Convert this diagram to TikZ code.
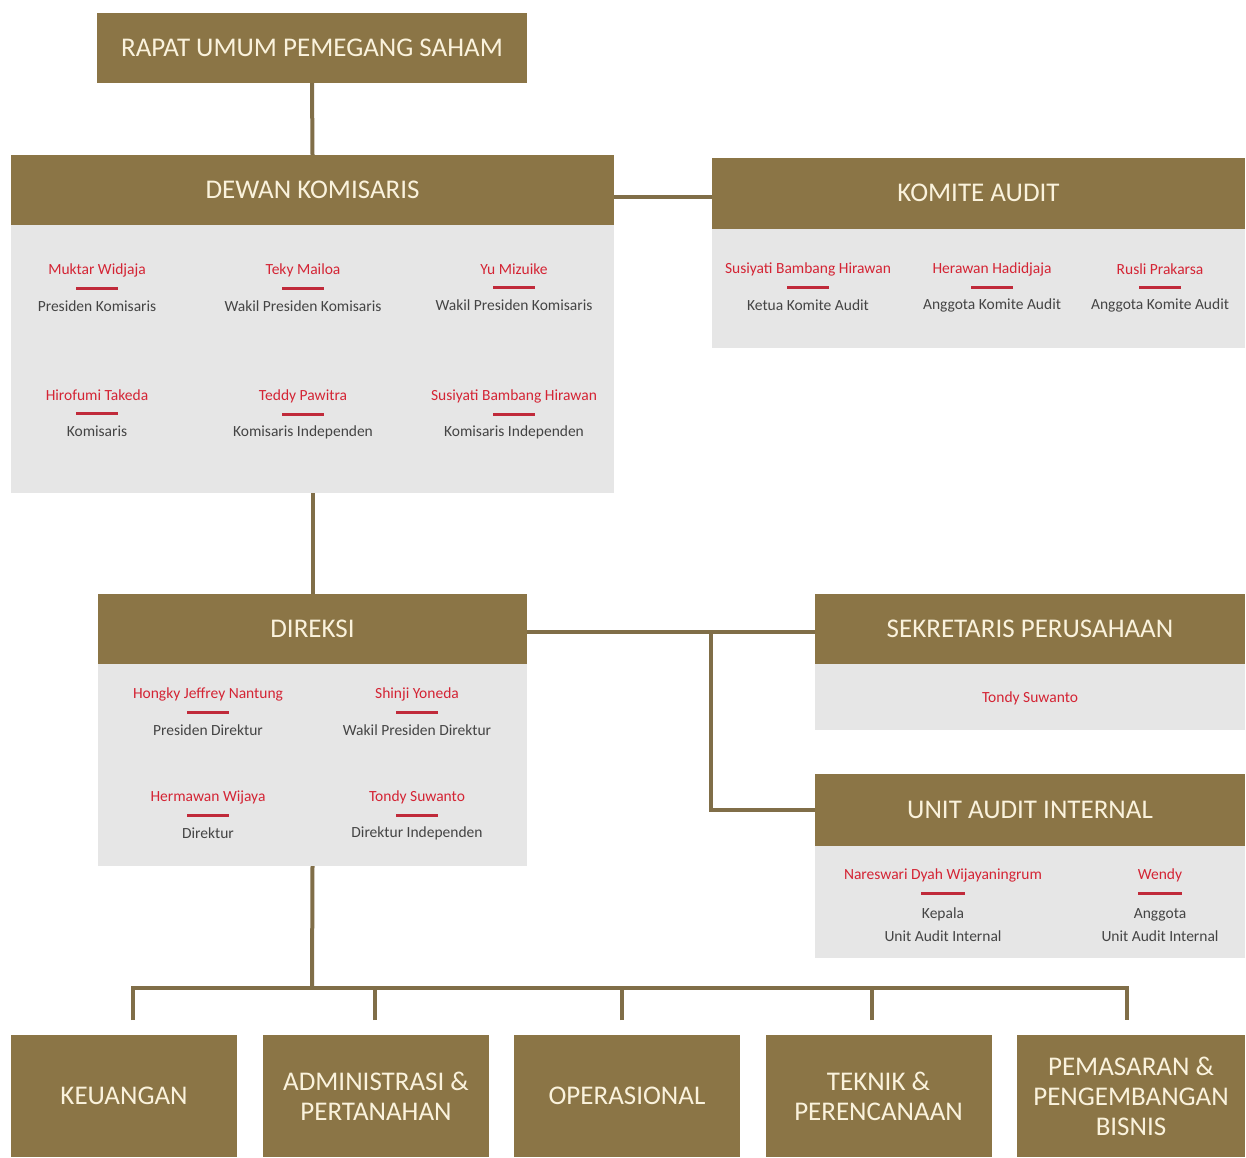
\documentclass[tikz,border=0pt]{standalone}
\usepackage{fontspec}
\setmainfont{Carlito}
\usetikzlibrary{calc}
\definecolor{brn}{RGB}{139,117,70}
\definecolor{lnc}{RGB}{128,110,72}
\definecolor{crm}{RGB}{250,242,220}
\definecolor{gbody}{RGB}{230,230,230}
\definecolor{nred}{RGB}{212,36,52}
\definecolor{ured}{RGB}{192,42,58}
\definecolor{rgray}{RGB}{68,68,68}
\newcommand\pers[5]{%
  \node[nm] (#1n) at (#2,#3) {#4};
  \draw[uline] (#2-21,#3+18.5) -- (#2+21,#3+18.5);
  \node[rl] (#1r) at (#2,#3+36) {#5};
}
\tikzset{
  hdr/.style={fill=brn, text=crm, font=\fontsize{27}{30}\selectfont, inner sep=0pt, align=center},
  bodybox/.style={fill=gbody, inner sep=0pt},
  nm/.style={text=nred, font=\fontsize{15.5}{18}\selectfont, inner sep=0pt},
  rl/.style={text=rgray, font=\fontsize{15.5}{23}\selectfont, inner sep=0pt, align=center},
  conn/.style={draw=lnc, line width=4pt},
  uline/.style={draw=ured, line width=3pt}
}
\begin{document}
\begin{tikzpicture}[x=1pt,y=-1pt]
\useasboundingbox[fill=white] (0,0) rectangle (1246,1157);

% top
\node[hdr, minimum width=430pt, minimum height=70pt] (rups) at (312,48) {RAPAT UMUM PEMEGANG SAHAM};

% Dewan Komisaris
\node[bodybox, minimum width=603pt, minimum height=268pt] (dkb) at (312.5,359) {};
\node[hdr, minimum width=603pt, minimum height=70pt] (dkh) at (312.5,190) {DEWAN KOMISARIS};
\pers{dk1}{97}{270}{Muktar Widjaja}{Presiden Komisaris}
\pers{dk2}{303}{270}{Teky Mailoa}{Wakil Presiden Komisaris}
\pers{dk3}{514}{269}{Yu Mizuike}{Wakil Presiden Komisaris}
\pers{dk4}{97}{395}{Hirofumi Takeda}{Komisaris}
\pers{dk5}{303}{396}{Teddy Pawitra}{Komisaris Independen}
\pers{dk6}{514}{396}{Susiyati Bambang Hirawan}{Komisaris Independen}

% Komite Audit
\node[bodybox, minimum width=533pt, minimum height=119pt] (kab) at (978.5,288) {};
\node[hdr, minimum width=533pt, minimum height=71pt] (kah) at (978.5,193) {KOMITE AUDIT};
\pers{ka1}{808}{269}{Susiyati Bambang Hirawan}{Ketua Komite Audit}
\pers{ka2}{992}{269}{Herawan Hadidjaja}{Anggota Komite Audit}
\pers{ka3}{1160}{269}{Rusli Prakarsa}{Anggota Komite Audit}

% Direksi
\node[bodybox, minimum width=429pt, minimum height=202pt] (drb) at (312.5,765) {};
\node[hdr, minimum width=429pt, minimum height=70pt] (drh) at (312.5,629) {DIREKSI};
\pers{dr1}{208}{694}{Hongky Jeffrey Nantung}{Presiden Direktur}
\pers{dr2}{417}{694}{Shinji Yoneda}{Wakil Presiden Direktur}
\pers{dr3}{208}{797}{Hermawan Wijaya}{Direktur}
\pers{dr4}{417}{797}{Tondy Suwanto}{Direktur Independen}

% Sekretaris Perusahaan
\node[bodybox, minimum width=430pt, minimum height=66pt] (spb) at (1030,697) {};
\node[hdr, minimum width=430pt, minimum height=70pt] (sph) at (1030,629) {SEKRETARIS PERUSAHAAN};
\node[nm] (sp1n) at (1030,698) {Tondy Suwanto};

% Unit Audit Internal
\node[bodybox, minimum width=430pt, minimum height=112pt] (uab) at (1030,902) {};
\node[hdr, minimum width=430pt, minimum height=72pt] (uah) at (1030,810) {UNIT AUDIT INTERNAL};
\node[nm] (ua1n) at (943,875) {Nareswari Dyah Wijayaningrum};
\draw[uline] (921,893) -- (965,893);
\node[rl] (ua1r) at (943,925) {Kepala\\Unit Audit Internal};
\node[nm] (ua2n) at (1160,875) {Wendy};
\draw[uline] (1138,893) -- (1182,893);
\node[rl] (ua2r) at (1160,925) {Anggota\\Unit Audit Internal};

% bottom departments
\node[hdr, minimum width=226pt, minimum height=122pt] (b1) at (124,1096) {KEUANGAN};
\node[hdr, minimum width=226pt, minimum height=122pt] (b2) at (376,1096) {ADMINISTRASI \&\\PERTANAHAN};
\node[hdr, minimum width=226pt, minimum height=122pt] (b3) at (627,1096) {OPERASIONAL};
\node[hdr, minimum width=226pt, minimum height=122pt] (b4) at (878.5,1096) {TEKNIK \&\\PERENCANAAN};
\node[hdr, minimum width=228pt, minimum height=122pt] (b5) at (1131,1096) {PEMASARAN \&\\PENGEMBANGAN\\BISNIS};

% connectors
\draw[conn] (rups.south) -- (dkh.north);
\coordinate (kaw) at ($(kah.west)+(0,4)$);
\draw[conn] (dkh.east |- kaw) -- (kaw);
\draw[conn] (dkb.south) -- (drh.north);
\coordinate (spw) at ($(sph.west)+(0,3)$);
\draw[conn] (drh.east |- spw) -- (spw);
\coordinate (jn) at (711,632);
\draw[conn] (jn) |- (uah.west);
\coordinate (bus) at (312,988);
\draw[conn] (drb.south) -- (bus);
\coordinate (d1) at (133,1020);
\coordinate (d2) at (375,1020);
\coordinate (d3) at (622,1020);
\coordinate (d4) at (872,1020);
\coordinate (d5) at (1127,1020);
\draw[conn] (d1) |- (bus) -| (d5);
\draw[conn] (d2) -- (d2 |- bus);
\draw[conn] (d3) -- (d3 |- bus);
\draw[conn] (d4) -- (d4 |- bus);
\end{tikzpicture}
\end{document}
